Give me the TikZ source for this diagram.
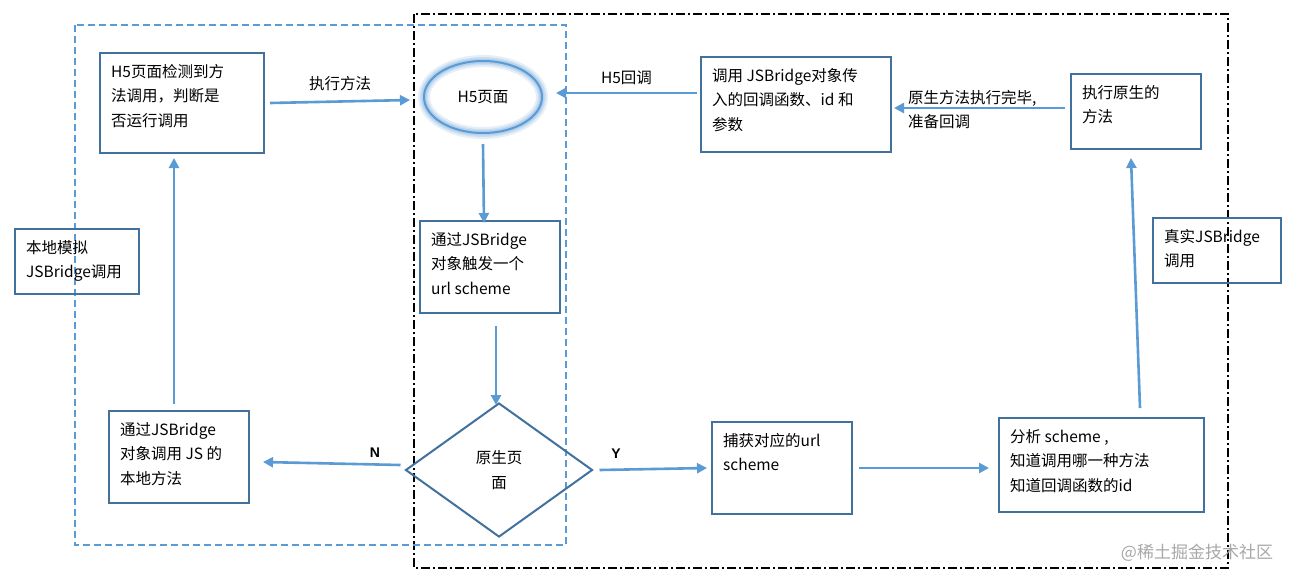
\documentclass[tikz,border=0pt]{standalone}
\usepackage{fontspec}
\setmainfont{Noto Sans CJK SC}
\newfontfamily\latb{Liberation Sans}
\usetikzlibrary{arrows.meta,shapes.geometric}
\definecolor{boxc}{HTML}{41719C}
\definecolor{arrc}{HTML}{5B9BD5}
\definecolor{glowc}{HTML}{9DC3E6}
\definecolor{markc}{HTML}{A8A8A8}
\tikzset{
  box/.style={draw=boxc, line width=2pt, rectangle, inner sep=0pt},
  txt/.style={font={\fontsize{15.5}{24.5}\selectfont}, align=left, inner sep=0pt,
              anchor=north west, xshift=12pt, yshift=-12pt},
  lbl/.style={font={\fontsize{15.5}{24.5}\selectfont}, align=left, inner sep=0pt},
  yn/.style={font={\latb\bfseries\fontsize{14}{16}\selectfont}, inner sep=0pt},
  arr/.style={draw=arrc, line width=2.6pt, -{Triangle[length=10pt,width=10pt]}},
  bluebox/.style={draw=arrc, line width=1.8pt, dash pattern=on 7pt off 4pt},
  blackbox/.style={draw=black, line width=1.8pt, dash pattern=on 9pt off 3pt on 2pt off 3pt},
}
\begin{document}
\begin{tikzpicture}[x=1pt,y=1pt]
\useasboundingbox (0,0) rectangle (1296,-582);
\fill[white] (0,0) rectangle (1296,-582);

% frames
\draw[blackbox] (414,-14) rectangle (1228,-568);
\draw[bluebox] (75,-25) rectangle (566,-545);

% boxes
\node[box, minimum width=164pt, minimum height=100pt,
  label={[txt]north west:{H5页面检测到方\\法调用，判断是\\否运行调用}}] (A) at (182,-103) {};
\node[box, minimum width=140pt, minimum height=92pt,
  label={[txt]north west:{通过JSBridge\\对象触发一个\\url scheme}}] (S) at (490,-267) {};
\node[box, minimum width=140pt, minimum height=92pt,
  label={[txt]north west:{通过JSBridge\\对象调用 JS 的\\本地方法}}] (L) at (179,-457) {};
\node[box, minimum width=124pt, minimum height=65pt,
  label={[txt]north west:{本地模拟\\JSBridge调用}}] (Loc) at (77,-261.5) {};
\node[box, minimum width=190pt, minimum height=95pt,
  label={[txt]north west:{调用 JSBridge对象传\\入的回调函数、id 和\\参数}}] (Cb) at (796,-104.5) {};
\node[box, minimum width=130pt, minimum height=75pt,
  label={[txt]north west:{执行原生的\\方法}}] (Nt) at (1136,-111.5) {};
\node[box, minimum width=128pt, minimum height=65pt,
  label={[txt]north west:{真实JSBridge\\调用}}] (Real) at (1217,-250.5) {};
\node[box, minimum width=140pt, minimum height=92pt,
  label={[txt]north west:{捕获对应的url\\scheme}}] (C) at (782,-468) {};
\node[box, minimum width=205pt, minimum height=94pt,
  label={[txt]north west:{分析 scheme ,\\知道调用哪一种方法\\知道回调函数的id}}] (An) at (1101.5,-465) {};

% ellipse with glow
\node[ellipse, draw=arrc, line width=2pt, minimum width=118pt, minimum height=72pt, inner sep=0pt,
  preaction={draw=glowc, line width=12pt, opacity=0.25},
  preaction={draw=glowc, line width=8pt, opacity=0.35},
  preaction={draw=glowc, line width=5pt, opacity=0.5},
  lbl, align=center] (H5) at (483,-97) {H5页面};

% diamond
\node[diamond, draw=boxc, line width=2pt, minimum width=187pt, minimum height=134pt,
  inner sep=0pt, lbl, align=center] (D) at (499,-470) {原生页\\面};

% connectors
\draw[arr] ([xshift=5pt]A.east) -- ([xshift=-13pt,yshift=-3pt]H5.west)
  node[lbl, midway, above=9pt] (lexec) {执行方法};
\draw[arr] ([yshift=-10pt]H5.south) -- ([xshift=-6pt,yshift=-3pt]S.north);
\draw[arr] ([xshift=6pt,yshift=-12pt]S.south) -- ([xshift=-3pt,yshift=-3pt]D.north);
\draw[arr] ([xshift=-4pt,yshift=5pt]D.west) -- ([xshift=13pt,yshift=-5pt]L.east);
\node[yn] (lN) at (375,-453) {N};
\draw[arr] ([xshift=-5pt,yshift=6pt]L.north) -- ([xshift=-8pt,yshift=-4pt]A.south);
\draw[arr] ([xshift=6pt]D.east) -- ([xshift=-4pt]C.west);
\node[yn] (lY) at (616,-454) {Y};
\draw[arr] ([xshift=6pt]C.east) -- ([xshift=-9pt,yshift=-3pt]An.west);
\draw[arr] ([xshift=38.5pt,yshift=9pt]An.north) -- ([xshift=-5pt,yshift=-8pt]Nt.south);
\draw[arr] ([xshift=-5pt,yshift=3.5pt]Nt.west) -- ([xshift=2pt,yshift=-3.5pt]Cb.east);
\node[lbl, anchor=north west] (ldone) at (908,-90) {原生方法执行完毕,\\准备回调};
\draw[arr] ([xshift=-3pt,yshift=11.5pt]Cb.west) -- ([xshift=13pt,yshift=4pt]H5.east)
  node[lbl, midway, above=7pt] (lcb) {H5回调};

% watermark
\node[font={\fontsize{17}{20}\selectfont}, text=markc, inner sep=0pt] (wm) at (1197,-553) {@稀土掘金技术社区};
\end{tikzpicture}
\end{document}
